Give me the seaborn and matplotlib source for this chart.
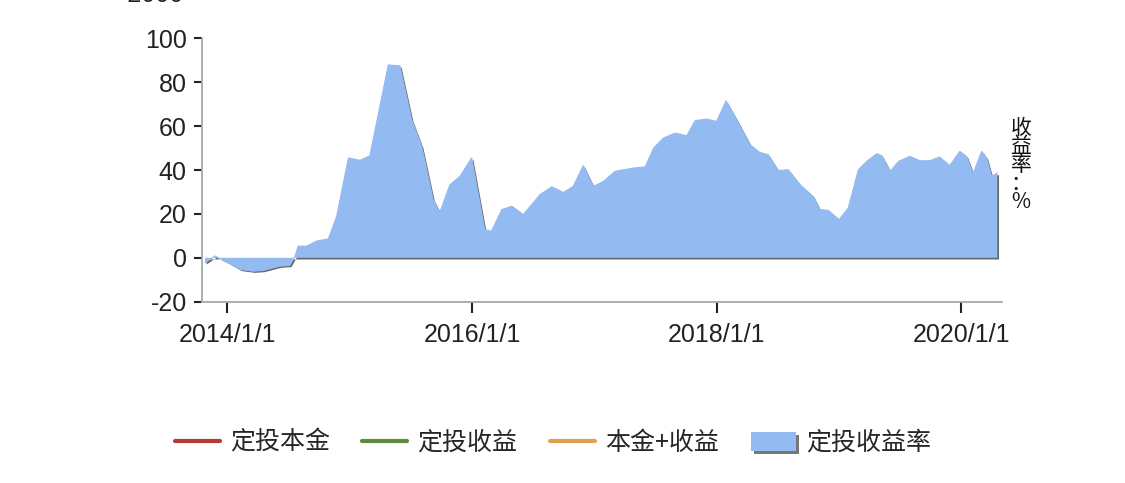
import matplotlib
matplotlib.use("Agg")
import matplotlib.pyplot as plt
import matplotlib.dates as mdates
import matplotlib.patheffects as pe
from matplotlib.lines import Line2D
from matplotlib.patches import Patch
import seaborn as sns
import pandas as pd

# 定投收益率 (%)
dates = ["2013-10-26", "2013-11-25", "2014-01-01", "2014-02-08", "2014-03-18",
         "2014-04-17", "2014-06-06", "2014-07-06", "2014-07-21", "2014-07-31",
         "2014-08-25", "2014-09-24", "2014-10-29", "2014-11-23", "2014-12-28",
         "2015-02-01", "2015-03-02", "2015-04-26", "2015-05-31", "2015-07-05",
         "2015-08-04", "2015-09-07", "2015-09-27", "2015-10-27", "2015-11-26",
         "2015-12-31", "2016-02-08", "2016-02-28", "2016-03-30", "2016-04-29",
         "2016-06-02", "2016-07-22", "2016-08-26", "2016-09-30", "2016-10-29",
         "2016-11-28", "2016-12-28", "2017-01-27", "2017-03-03", "2017-04-27",
         "2017-06-01", "2017-06-26", "2017-07-25", "2017-08-29", "2017-10-03",
         "2017-10-28", "2017-12-02", "2017-12-31", "2018-01-28", "2018-03-01",
         "2018-04-10", "2018-05-09", "2018-06-03", "2018-07-03", "2018-08-02",
         "2018-09-06", "2018-10-15", "2018-11-04", "2018-11-29", "2019-01-01",
         "2019-01-28", "2019-02-27", "2019-03-24", "2019-04-23", "2019-05-08",
         "2019-06-02", "2019-06-27", "2019-07-31", "2019-08-30", "2019-09-28",
         "2019-10-28", "2019-11-27", "2019-12-27", "2020-01-16", "2020-02-05",
         "2020-03-01", "2020-03-16", "2020-03-31", "2020-04-17"]
rate = [-2.3, 0.8, -2.0, -5.3, -6.1,
        -5.8, -3.8, -3.5, 0.5, 5.3,
        5.3, 7.6, 8.6, 18.9, 45.5,
        44.4, 46.5, 87.9, 87.4, 62.9,
        50.7, 26.5, 20.7, 33.3, 37.1,
        45.5, 12.9, 12.1, 22.0, 23.5,
        19.7, 28.8, 32.3, 29.8, 32.5,
        42.0, 32.5, 34.8, 39.4, 40.9,
        41.4, 50.0, 54.5, 56.8, 55.6,
        62.5, 63.2, 62.1, 71.5, 62.9,
        51.5, 48.0, 47.0, 39.8, 40.1,
        33.3, 28.0, 22.0, 21.6, 17.4,
        22.7, 40.1, 43.9, 47.4, 46.5,
        39.4, 43.9, 46.2, 44.2, 44.2,
        45.9, 42.0, 48.5, 46.2, 38.3,
        48.5, 45.5, 37.1, 38.6]

legend_labels = ["定投本金", "定投收益", "本金+收益", "定投收益率"]
legend_colors = ["#B83A32", "#5E8A3E", "#E0A050", "#94BAF2"]

yticks = [-20, 0, 20, 40, 60, 80, 100]
xticks = ["2014-01-01", "2016-01-01", "2018-01-01", "2020-01-01"]

df = pd.DataFrame({"date": pd.to_datetime(dates), "rate": rate})

sns.set_theme(style="white")
plt.rcParams["font.family"] = ["Liberation Sans", "Noto Sans CJK SC", "DejaVu Sans"]
plt.rcParams["axes.unicode_minus"] = False

fig = plt.figure(figsize=(11.25, 4.83), dpi=100)
ax = fig.add_axes([202 / 1125, 1 - 301.7 / 483, 799.7 / 1125, 263.4 / 483])

fill = ax.fill_between(df["date"], df["rate"], 0, color=legend_colors[3], lw=0)
fill.set_path_effects([pe.SimplePatchShadow(offset=(1.2, -1.2), shadow_rgbFace="#333333", alpha=0.75),
                       pe.Normal()])
sns.lineplot(data=df, x="date", y="rate", ax=ax, color=legend_colors[3], lw=0.8)

ax.set_ylim(-20, 100)
ax.set_xlim(pd.Timestamp("2013-10-17"), pd.Timestamp("2020-04-30"))
ax.set_yticks(yticks)
ax.set_xticks(pd.to_datetime(xticks))
ax.xaxis.set_major_formatter(mdates.DateFormatter("%Y/%-m/%-d"))
ax.set_xlabel("")
ax.set_ylabel("")

for s in ["top", "right"]:
    ax.spines[s].set_visible(False)
for s in ["left", "bottom"]:
    ax.spines[s].set_color("#a8a8a8")
    ax.spines[s].set_linewidth(1.3)

ax.tick_params(axis="y", direction="out", length=6, width=1.5, color="#222222",
               pad=5, labelsize=18, labelcolor="#222222", left=True)
ax.tick_params(axis="x", direction="out", length=8, width=1.5, color="#222222",
               pad=7, labelsize=18, labelcolor="#222222", bottom=True)

# label of the amount axis, cut off at the top edge as in the reference
fig.text(184 / 1125, 1 + 5 / 483, "-2000", ha="right", va="center",
         fontsize=18, color="#222222")

# right axis title, characters stacked
fig.text(1021 / 1125, 1 - 165 / 483, "收\n益\n率\n：\n%", ha="center", va="center",
         fontsize=15, linespacing=0.8, color="#111111",
         family=["Noto Sans CJK SC", "DejaVu Sans"])

handles = [Line2D([], [], color=c, lw=3) for c in legend_colors[:3]]
handles.append(Patch(facecolor=legend_colors[3], edgecolor="none",
                     path_effects=[pe.SimplePatchShadow(offset=(2, -2), shadow_rgbFace="#555555", alpha=0.8),
                                   pe.Normal()]))
fig.legend(handles, legend_labels, loc="center", bbox_to_anchor=(553 / 1125, 1 - 443 / 483),
           ncol=4, frameon=False, handlelength=1.8, handleheight=0.8, handletextpad=0.4,
           columnspacing=1.3, prop={"family": ["Noto Sans CJK SC", "DejaVu Sans"], "size": 18})

fig.savefig("out.png", dpi=100)
